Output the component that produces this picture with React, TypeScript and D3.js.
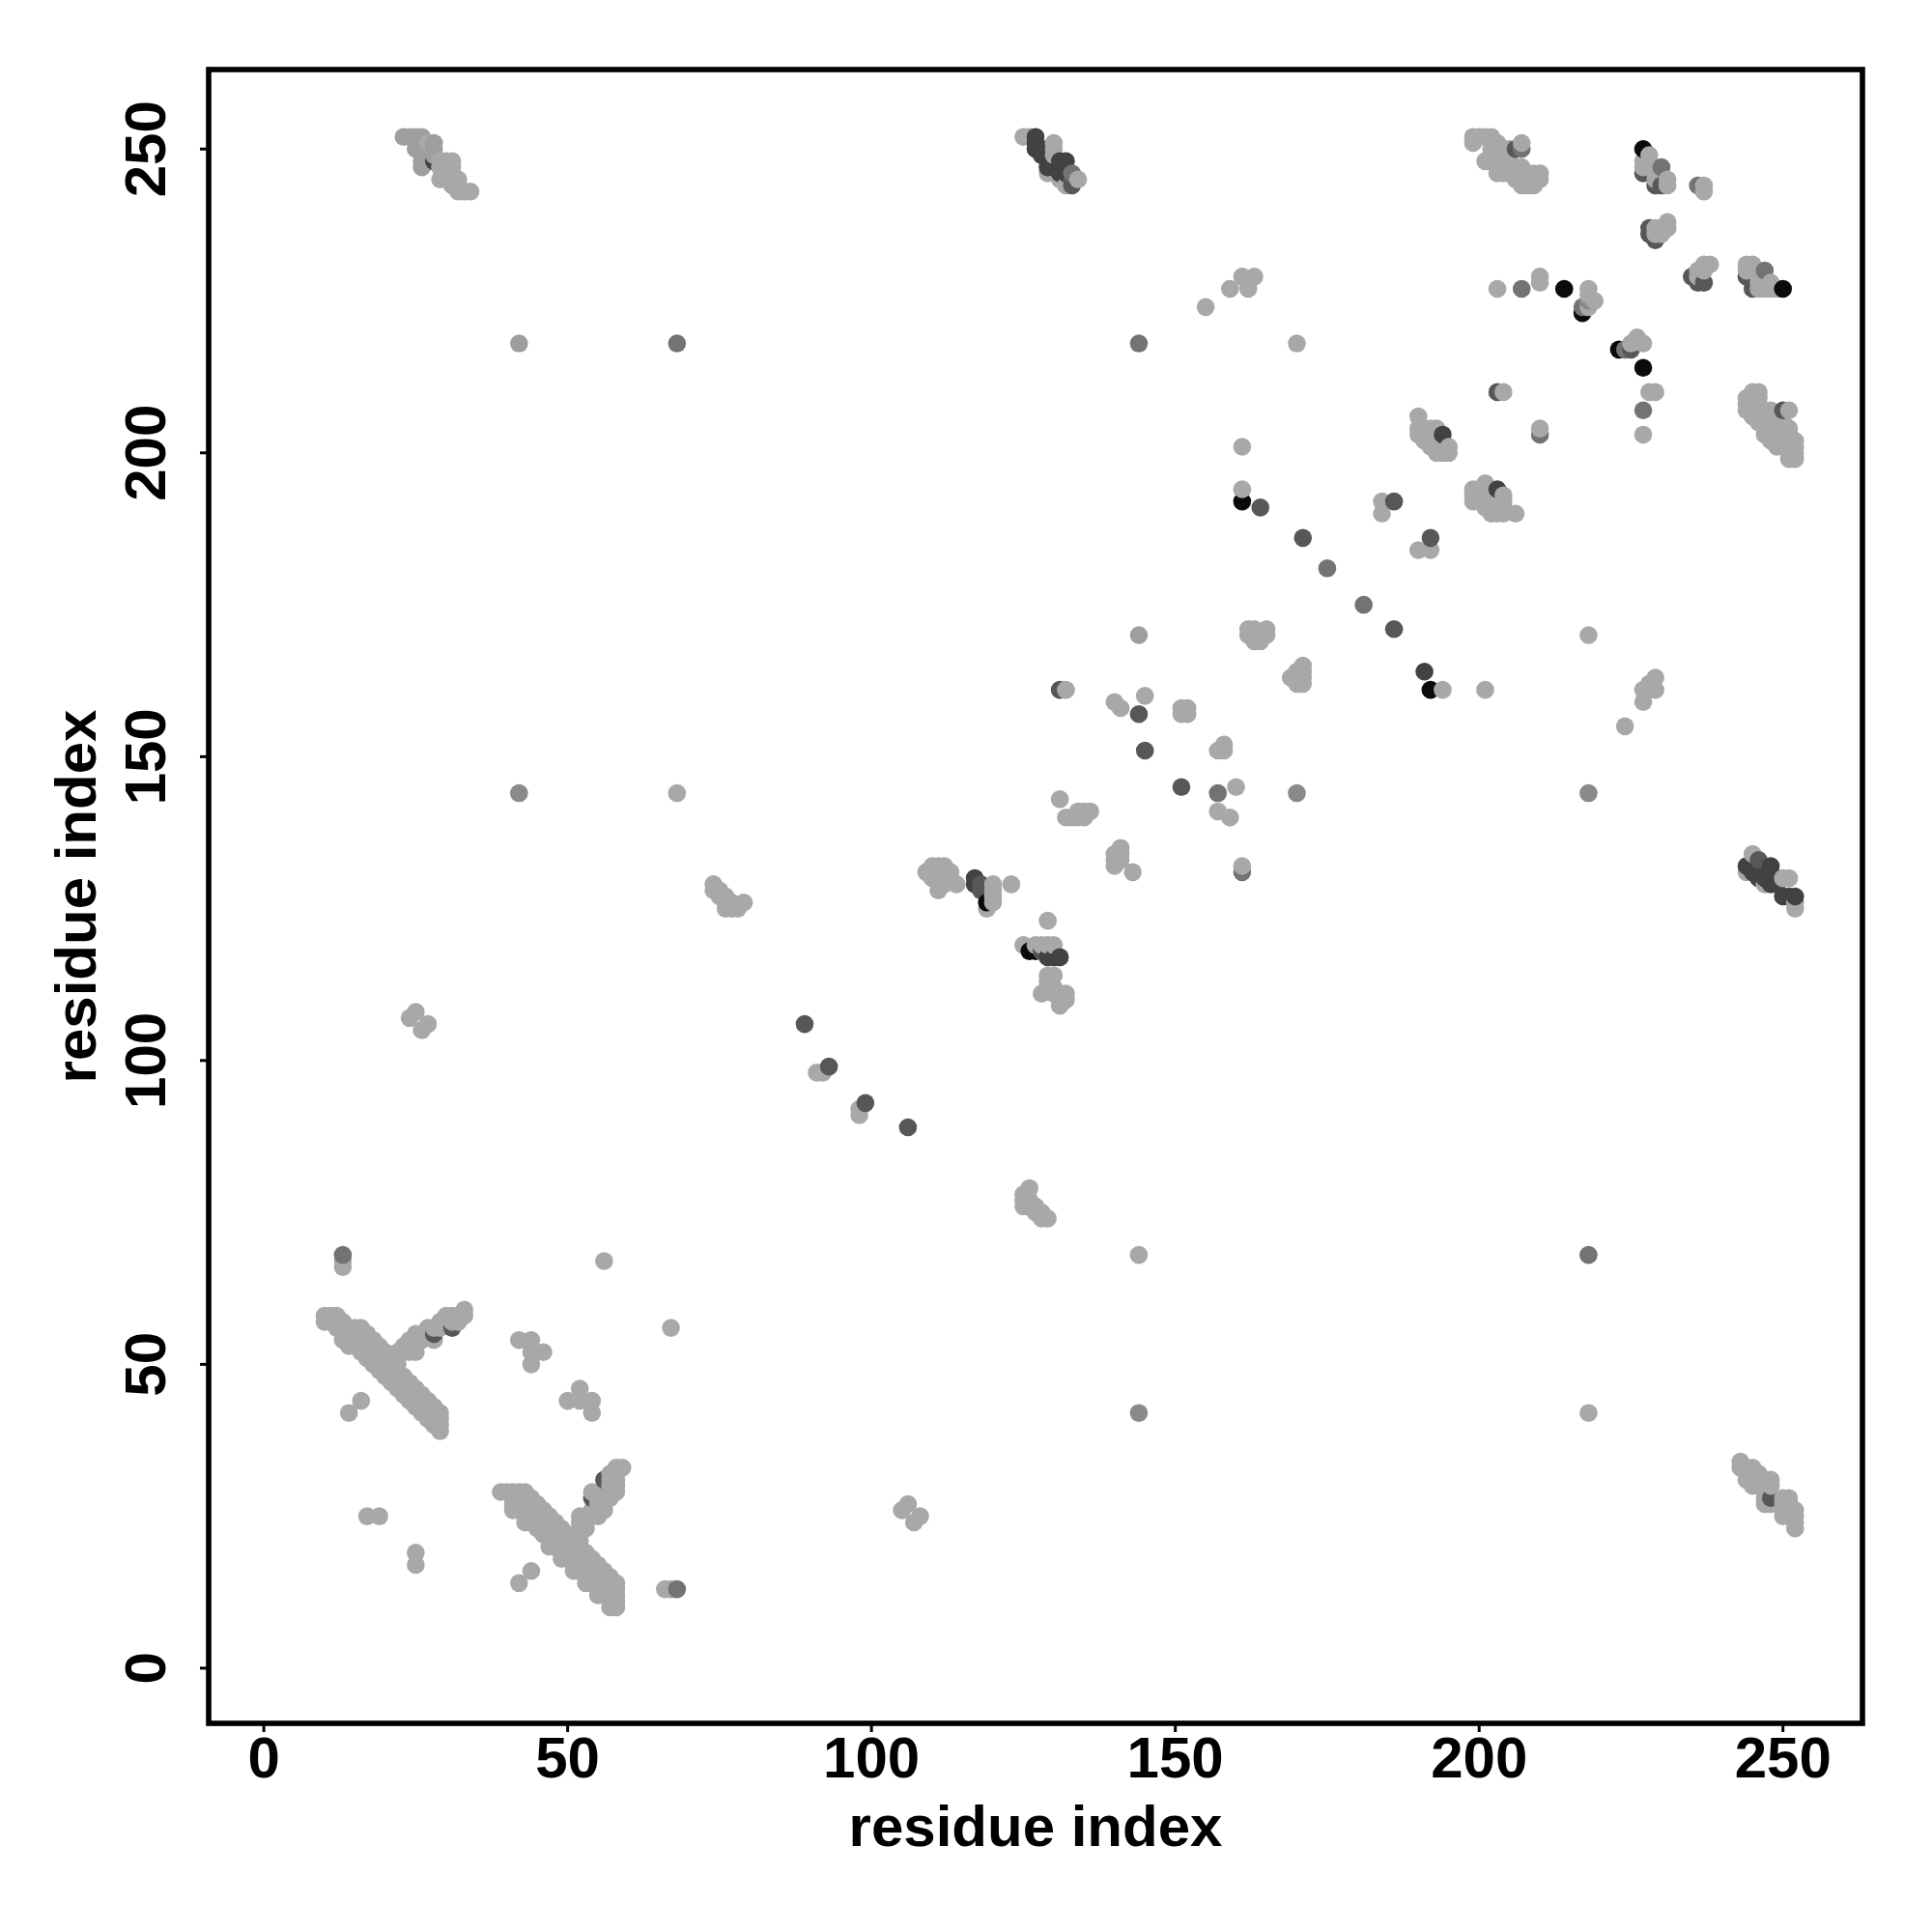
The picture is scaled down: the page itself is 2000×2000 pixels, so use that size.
import React from "react";
import * as d3 from "d3";

type P = [number, number];

const xTicks = [0, 50, 100, 150, 200, 250];
const yTicks = [0, 50, 100, 150, 200, 250];
const axisTitle = "residue index";

const black: P[] = [[119,126],[126,118],[127,118],[161,192],[192,161],[214,227],[217,223],[223,217],[227,214],[227,250],[250,227]];
const charcoal: P[] = [[117,130],[117,129],[130,117],[131,117],[129,117],[127,252],[127,251],[127,250],[128,250],[128,249],[129,248],[129,247],[131,248],[132,248],[130,247],[131,246],[132,246],[194,203],[203,194],[191,164],[28,248],[244,132],[245,131],[246,131],[246,130],[247,130],[248,132],[248,131],[248,130],[248,129],[249,129],[250,127],[252,127],[251,127]];
const darkGrey: P[] = [[118,128],[118,129],[128,118],[131,161],[89,106],[106,89],[93,99],[99,93],[144,157],[145,151],[151,145],[164,191],[171,186],[186,171],[186,192],[192,186],[203,210],[206,250],[28,55],[31,56],[56,31],[54,28],[227,246],[229,244],[230,244],[228,237],[228,236],[229,235],[235,229],[236,228],[237,228],[244,229],[245,227],[250,207],[246,133],[133,245],[133,244],[225,217],[248,28]];
const midDark: P[] = [[13,68],[68,13],[157,144],[161,131],[175,181],[181,175],[207,227],[207,250],[210,203],[217,224],[224,217],[227,207],[236,244],[230,247],[247,230],[133,246],[218,68],[68,218],[144,218]];
const mid: P[] = [[42,144],[144,42],[218,144],[170,144],[218,225]];
const softGrey: P[] = [[42,218],[23,252],[24,252],[25,252],[26,252],[25,250],[26,250],[27,250],[28,251],[28,250],[28,249],[27,249],[26,248],[26,247],[27,248],[144,170]];

const lightArms: P[] = [
  [22,52],[23,52],[24,52],[25,52],[23,53],[24,53],[25,54],[24,54],[25,55],[26,55],[26,54],[27,56],[28,56],[28,54],[29,57],[29,56],[30,57],[30,58],[31,58],[32,58],[33,58],[33,59],[32,57],[31,57],
  [52,23],[53,23],[52,24],[53,24],[52,25],[54,25],[55,25],[54,26],[56,26],[56,27],[55,27],[54,29],[55,28],[57,28],[57,29],[56,29],[58,29],[58,30],[57,30],[57,31],[58,31],[57,32],[58,33],[59,33],[58,32],
];
const lightBands: P[] = [
  [10,57],[10,58],[11,58],[12,58],[11,57],[12,56],[12,57],[13,57],[13,55],[14,56],[14,55],[15,54],[15,56],[16,56],[16,53],[16,55],[17,55],[17,54],[17,52],[18,54],[18,53],[18,51],[19,53],[19,51],[20,52],[20,50],[20,49],[21,51],[21,49],[22,50],[21,47],[22,47],[22,48],[23,48],[23,47],[23,46],[24,46],[24,47],[25,46],[25,45],[25,44],[26,44],[26,45],[26,43],[27,44],[27,43],[27,41],[28,43],[28,42],[28,41],[29,42],[29,41],[29,40],[29,39],
  [13,54],[14,53],[15,53],[16,52],[17,51],[17,53],[18,50],[19,49],[19,50],[19,52],[20,48],[21,48],[21,50],[22,46],[22,49],[23,45],[24,44],[24,45],[25,43],[26,42],[27,42],[28,40],
  [39,29],[40,29],[41,29],[42,29],[43,29],[41,28],[41,27],[42,28],[43,28],[42,26],[44,27],[44,28],[44,25],[45,27],[45,25],[45,26],[46,24],[46,25],[46,26],[47,25],[47,23],[47,24],[48,24],[48,23],[49,22],[49,21],[49,23],[50,22],[50,20],[51,21],[51,19],[52,21],[52,20],[52,18],[53,19],[53,18],[54,18],[54,17],[55,17],[55,16],[55,15],[56,16],[56,15],[56,13],[57,15],[57,14],[57,13],[57,12],[58,14],[58,13],[58,12],[58,11],[58,10],[56,12],[57,11],[57,10],
  [41,26],[43,24],[43,25],[43,26],[44,24],[45,23],[46,22],[47,20],[47,21],[47,22],[48,20],[48,21],[49,18],[49,19],[49,20],[50,18],[50,19],[51,16],[51,17],[51,18],[51,20],[52,16],[52,17],[52,19],[53,14],[53,15],[53,16],[53,17],[54,14],[54,15],[54,16],[55,12],[55,13],[55,14],[56,14],
];
const lightTopBands: P[] = [
  [27,251],[29,248],[30,248],[31,248],[29,247],[30,247],[31,247],[31,246],[30,246],[29,245],[30,245],[31,245],[32,245],[32,244],[31,244],[33,243],[34,243],[32,243],
  [125,252],[126,252],[130,251],[130,250],[130,249],[129,246],[131,245],[132,244],[134,245],
  [199,251],[199,252],[200,252],[201,252],[202,252],[203,251],[202,250],[203,250],[204,250],[205,250],[202,249],[203,249],[204,249],[205,249],[201,248],[202,248],[203,247],[204,247],[205,247],[206,247],[207,247],[203,246],[204,246],[205,246],[206,246],[206,245],[207,245],[208,245],[207,244],[208,244],[209,244],[209,245],[210,245],[210,246],[209,246],[207,251],
  [227,248],[228,249],[228,248],[227,247],[228,247],[229,245],[231,245],[231,244],[237,244],[237,243],
  [229,237],[230,236],[231,238],[231,237],[230,237],[229,236],
  [236,230],[237,231],[238,231],[236,229],[237,230],
  [244,231],[245,231],[244,230],[246,229],[247,228],[248,228],[247,227],[246,228],[249,227],[246,227],[248,227],
];
const lightRight: P[] = [
  [244,209],[244,208],[244,207],[245,208],[245,209],[245,210],[246,210],[246,209],[245,206],[246,205],[247,206],[247,207],[248,207],[246,207],[248,206],[248,205],[248,204],[247,204],[247,203],[248,202],[249,201],[251,207],[251,204],[252,202],[252,199],[251,199],[250,205],[250,204],[250,202],[251,203],[251,201],[252,201],[252,200],[251,200],[249,203],[249,205],[250,203],
  [245,134],[244,131],[247,129],[250,130],[251,130],[252,126],[252,125],
  [243,34],[243,33],[244,32],[245,33],[246,32],[246,31],[245,31],[245,30],[246,30],[247,29],[247,28],[247,31],[248,31],[248,30],[248,27],[250,28],[251,28],[250,27],[250,26],[250,25],[251,27],[252,26],[252,25],[252,24],[252,23],[251,25],[244,31],[247,27],
];
const lightMid: P[] = [
  [190,206],[190,203],[190,204],[191,204],[192,204],[193,204],[191,203],[191,202],[192,201],[193,200],[194,200],[195,200],[195,201],[193,202],[192,202],[193,203],
  [199,193],[199,194],[200,194],[201,195],[202,194],[199,192],[200,192],[201,191],[202,190],[203,190],[204,190],[204,191],[204,192],[204,193],[202,192],[203,192],[206,190],[201,193],
  [162,170],[162,171],[163,171],[163,170],[163,169],[164,169],[164,170],[165,171],[165,170],
  [169,163],[170,162],[170,163],[170,164],[171,162],[171,163],[171,164],[171,165],
  [109,131],[110,132],[111,132],[112,132],[110,130],[111,130],[111,128],[112,129],[113,130],[113,131],[114,129],
  [120,129],[120,128],[120,127],[120,126],[119,125],[123,129],
  [125,119],[127,119],[128,119],[129,119],[130,119],[129,123],[129,114],[130,114],[128,111],[130,112],[129,112],[131,111],[132,111],[132,110],[131,110],[131,109],[130,111],[129,113],
  [140,132],[140,133],[140,134],[141,134],[141,133],[141,135],[143,131],
  [131,143],[132,140],[133,140],[134,140],[135,140],[136,141],[135,141],[134,141],
  [74,128],[74,129],[75,127],[75,128],[76,127],[76,126],[77,126],[77,125],[78,125],[76,125],[79,126],
  [125,76],[125,77],[125,78],[126,76],[126,77],[126,79],[127,75],[127,76],[128,74],[128,75],[129,74],
];
const lightSingles: P[] = [
  [170,218],[68,144],[144,68],[218,42],[56,67],[67,56],[91,98],[92,98],[98,91],[98,92],[13,66],[13,67],[66,13],[67,13],
  [17,25],[19,25],[25,17],[25,19],[14,42],[16,44],[42,14],[44,16],
  [42,54],[44,54],[46,52],[44,52],[44,50],[50,44],[52,46],[54,44],[52,44],[54,42],
  [24,107],[25,108],[26,105],[27,106],[105,26],[106,27],[107,24],[108,25],
  [132,161],[161,132],[140,159],[141,158],[145,160],[160,145],[157,141],[159,140],
  [151,157],[151,158],[152,158],[152,157],[157,151],[158,151],[158,152],
  [161,201],[161,194],[194,161],[201,161],[218,170],[224,155],[227,159],[227,161],[228,161],[229,161],[229,163],[228,162],
  [184,192],[184,190],[190,184],[192,184],[155,224],[159,227],[161,229],[162,228],[163,229],[162,227],
  [203,227],[210,228],[210,229],[218,227],[218,226],[219,225],[218,224],[225,218],[226,219],[227,218],
  [228,210],[229,210],[227,203],[204,210],[210,204],
];

const greySeries: { fill: string; pts: P[] }[] = [
  { fill: "#0b0b0b", pts: black },
  { fill: "#424242", pts: charcoal },
  { fill: "#575757", pts: darkGrey },
  { fill: "#737373", pts: midDark },
  { fill: "#8a8a8a", pts: mid },
  { fill: "#9e9e9e", pts: softGrey },
  { fill: "#a8a8a8", pts: [...lightArms, ...lightBands, ...lightTopBands, ...lightRight, ...lightMid, ...lightSingles] },
];

const x = d3.scaleLinear().domain([-9.08, 263.08]).range([216, 1928]);
const y = d3.scaleLinear().domain([-9.08, 263.08]).range([1784, 72]);
const font = "'Liberation Sans', Arial, sans-serif";

export default function App() {
  const marks = greySeries
    .flatMap((s) => s.pts.map((p) => ({ px: p[0], py: p[1], fill: s.fill })))
    .sort((a, b) => d3.ascending(a.px, b.px) || d3.ascending(a.py, b.py));
  return (
    <svg width={2000} height={2000} style={{ position: "absolute", left: 0, top: 0, background: "#fff" }} fontFamily={font} fontWeight="bold">
      {marks.map((m, i) => (
        <circle key={i} cx={x(m.px)} cy={y(m.py)} r={9.3} fill={m.fill} />
      ))}
      <rect x={216} y={72} width={1712} height={1712} fill="none" stroke="#000" strokeWidth={5.6} />
      {xTicks.map((t) => (
        <g key={t}>
          <line x1={x(t)} x2={x(t)} y1={1784} y2={1793} stroke="#000" strokeWidth={3} />
          <text x={x(t)} y={1840} fontSize={60} textAnchor="middle">{t}</text>
        </g>
      ))}
      {yTicks.map((t) => (
        <g key={t}>
          <line x1={216} x2={207} y1={y(t)} y2={y(t)} stroke="#000" strokeWidth={3} />
          <text transform={`translate(171,${y(t)}) rotate(-90)`} fontSize={60} textAnchor="middle">{t}</text>
        </g>
      ))}
      <text x={1072} y={1911} fontSize={60} textAnchor="middle">{axisTitle}</text>
      <text transform={`translate(99,928) rotate(-90)`} fontSize={60} textAnchor="middle">{axisTitle}</text>
    </svg>
  );
}
